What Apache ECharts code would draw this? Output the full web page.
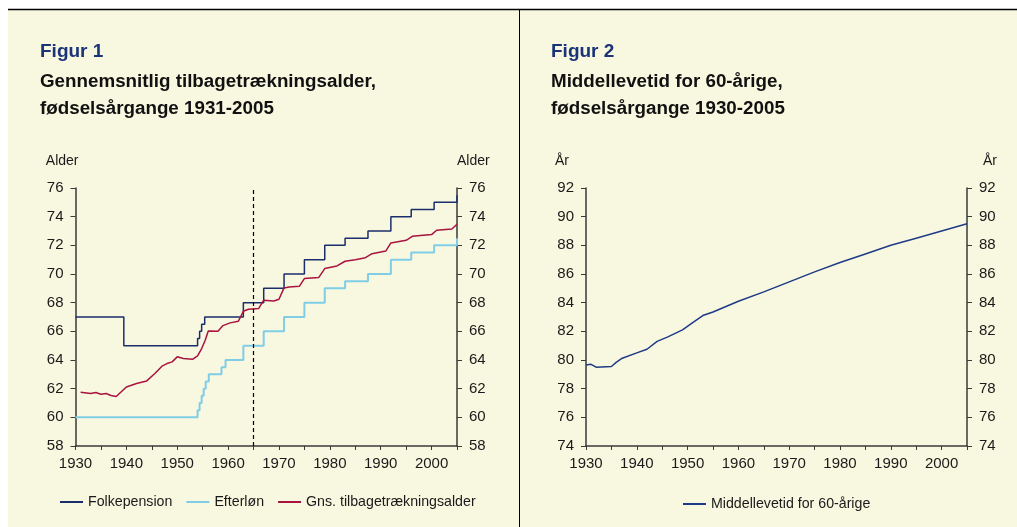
<!DOCTYPE html>
<html>
<head>
<meta charset="utf-8">
<script src="https://cdn.jsdelivr.net/npm/echarts@6/dist/echarts.min.js"></script>
<style>
  html, body { margin: 0; padding: 0; background: #fff; }
  #chart { width: 1017px; height: 527px; }
</style>
</head>
<body>
<div id="chart"></div>
<script>
// Figur 1 - tilbagetraekningsalder (aargange)
const fpYears = [1930, 1939.5, 1954, 1954.4, 1954.8, 1955.4, 1963, 1967, 1971, 1975, 1979, 1983, 1987.5, 1992, 1996, 2000.5, 2005]
const fpValues = [67, 65, 65.5, 66, 66.5, 67, 68, 69, 70, 71, 72, 72.5, 73, 74, 74.5, 75, 75.5]

const efYears = [1930, 1954, 1954.4, 1954.8, 1955.2, 1955.6, 1956.2, 1958.7, 1959.5, 1963, 1967, 1971, 1975, 1979, 1983, 1987.5, 1992, 1996, 2000.5, 2005]
const efValues = [60, 60.5, 61, 61.5, 62, 62.5, 63, 63.5, 64, 65, 66, 67, 68, 69, 69.5, 70, 71, 71.5, 72, 72.5]

const gnsYears = [1931, 1933, 1934, 1935, 1936, 1937, 1938, 1940, 1942, 1944, 1945.6, 1947, 1948, 1949, 1950,
  1951.2, 1953, 1954, 1954.8, 1955.5, 1956.1, 1958, 1959, 1960.4, 1962, 1963, 1964, 1966, 1967, 1969, 1970,
  1971, 1972, 1974, 1975, 1977.8, 1979, 1981.4, 1983, 1985, 1987, 1988.3, 1991, 1992, 1995, 1996.2, 2000,
  2001, 2004, 2005]
const gnsValues = [61.75, 61.66, 61.73, 61.61, 61.66, 61.52, 61.45, 62.12, 62.36, 62.54, 63.06, 63.57, 63.75, 63.87, 64.22,
  64.1, 64.05, 64.29, 64.8, 65.38, 66.03, 66.0, 66.4, 66.59, 66.7, 67.4, 67.54, 67.59, 68.17, 68.12, 68.24,
  69.03, 69.1, 69.14, 69.68, 69.75, 70.38, 70.56, 70.89, 71.0, 71.14, 71.42, 71.6, 72.17, 72.35, 72.63, 72.75,
  73.05, 73.14, 73.47]

const cutYear = 1965 // stiplet linje

// Figur 2 - middellevetid for 60-aarige
const mlYears = [1930, 1931, 1932, 1935, 1936, 1937, 1940, 1942, 1944, 1946, 1949, 1951, 1953, 1955, 1960,
  1965, 1970, 1975, 1980, 1985, 1990, 1995, 2000, 2005]
const mlValues = [79.65, 79.7, 79.5, 79.55, 79.85, 80.1, 80.5, 80.75, 81.3, 81.6, 82.1, 82.6, 83.1, 83.35, 84.1,
  84.75, 85.45, 86.15, 86.8, 87.4, 88.0, 88.5, 89.0, 89.5]

const font = 'Liberation Sans, Arial, sans-serif'
const axisColor = '#3a3a3a'
const labelColor = '#1a1a1a'

const pairs = (xs, ys) => xs.map((x, i) => [x, ys[i]])

function xAxisFor(gridIndex) {
  return {
    gridIndex: gridIndex,
    type: 'value',
    min: 1930,
    max: 2005,
    interval: 5,
    axisLine: { show: true, lineStyle: { color: axisColor, width: 1.5 } },
    axisTick: { show: true, length: 4, lineStyle: { color: axisColor } },
    axisLabel: {
      color: labelColor,
      fontFamily: font,
      fontSize: 15,
      margin: 10,
      formatter: (v) => (v % 10 === 0 && v < 2005 ? String(v) : '')
    },
    splitLine: { show: false }
  }
}

function yAxisFor(gridIndex, position, name, min, max) {
  const right = position === 'right'
  return {
    gridIndex: gridIndex,
    type: 'value',
    position: position,
    min: min,
    max: max,
    interval: 2,
    name: name,
    nameLocation: 'end',
    nameGap: 20,
    nameTextStyle: {
      color: labelColor,
      fontFamily: font,
      fontSize: 14,
      align: right ? 'left' : 'right',
      padding: name === 'År' ? (right ? [0, 0, 0, 16] : [0, 17, 0, 0]) : (right ? [0, 0, 0, 0] : [0, -3, 0, 0])
    },
    axisLine: { show: true, lineStyle: { color: axisColor, width: 1.5 } },
    axisTick: { show: true, length: 5, lineStyle: { color: axisColor } },
    axisLabel: { color: labelColor, fontFamily: font, fontSize: 15, margin: 12 },
    splitLine: { show: false }
  }
}

const chart = echarts.init(document.getElementById('chart'))

const titleStyle = { color: '#1B3478', fontFamily: font, fontSize: 19, fontWeight: 'bold' }
const subStyle = { color: '#111', fontFamily: font, fontSize: 18.8, fontWeight: 'bold', lineHeight: 27 }
const legendText = { color: labelColor, fontFamily: font, fontSize: 14.2 }

const option = {
  animation: false,
  backgroundColor: '#ffffff',
  graphic: [
    { type: 'rect', shape: { x: 8, y: 9, width: 1009, height: 518 }, style: { fill: '#F8F7E0' }, z: -10 },
    { type: 'line', shape: { x1: 8, y1: 9.5, x2: 1017, y2: 9.5 }, style: { stroke: '#000', lineWidth: 1.5 } },
    { type: 'line', shape: { x1: 519.5, y1: 9, x2: 519.5, y2: 527 }, style: { stroke: '#000', lineWidth: 1 } }
  ],
  title: [
    { text: 'Figur 1', left: 40, top: 42, padding: 0, textStyle: titleStyle },
    { text: 'Gennemsnitlig tilbagetrækningsalder,\nfødselsårgange 1931-2005', left: 40, top: 68, padding: 0, textStyle: subStyle },
    { text: 'Figur 2', left: 551, top: 42, padding: 0, textStyle: titleStyle },
    { text: 'Middellevetid for 60-årige,\nfødselsårgange 1930-2005', left: 551, top: 68, padding: 0, textStyle: subStyle }
  ],
  legend: [
    {
      left: 60, top: 495, padding: 0, icon: 'rect', itemWidth: 23, itemHeight: 2, itemGap: 14,
      textStyle: legendText,
      data: ['Folkepension', 'Efterløn', 'Gns. tilbagetrækningsalder']
    },
    {
      left: 683, top: 497, padding: 0, icon: 'rect', itemWidth: 23, itemHeight: 2,
      textStyle: legendText,
      data: ['Middellevetid for 60-årige']
    }
  ],
  grid: [
    { left: 75.5, top: 188, width: 381.5, height: 258 },
    { left: 586, top: 188, width: 381, height: 258 }
  ],
  xAxis: [xAxisFor(0), xAxisFor(1)],
  yAxis: [
    yAxisFor(0, 'left', 'Alder', 58, 76),
    yAxisFor(0, 'right', 'Alder', 58, 76),
    yAxisFor(1, 'left', 'År', 74, 92),
    yAxisFor(1, 'right', 'År', 74, 92)
  ],
  series: [
    {
      name: 'Folkepension', type: 'line', step: 'end', xAxisIndex: 0, yAxisIndex: 0,
      symbol: 'none', color: '#1A2E6C', lineStyle: { width: 1.5 },
      data: pairs(fpYears, fpValues),
      markLine: {
        silent: true, symbol: 'none', label: { show: false },
        lineStyle: { color: '#000', type: [4, 3], width: 1.2 },
        data: [{ xAxis: cutYear }]
      }
    },
    {
      name: 'Efterløn', type: 'line', step: 'end', xAxisIndex: 0, yAxisIndex: 0,
      symbol: 'none', color: '#80CDE6', lineStyle: { width: 2 },
      data: pairs(efYears, efValues)
    },
    {
      name: 'Gns. tilbagetrækningsalder', type: 'line', xAxisIndex: 0, yAxisIndex: 0,
      symbol: 'none', color: '#A8143F', lineStyle: { width: 1.5 },
      data: pairs(gnsYears, gnsValues)
    },
    {
      name: 'Middellevetid for 60-årige', type: 'line', xAxisIndex: 1, yAxisIndex: 2,
      symbol: 'none', color: '#1F3A86', lineStyle: { width: 1.5 },
      data: pairs(mlYears, mlValues)
    }
  ]
}

chart.setOption(option)
</script>
</body>
</html>
